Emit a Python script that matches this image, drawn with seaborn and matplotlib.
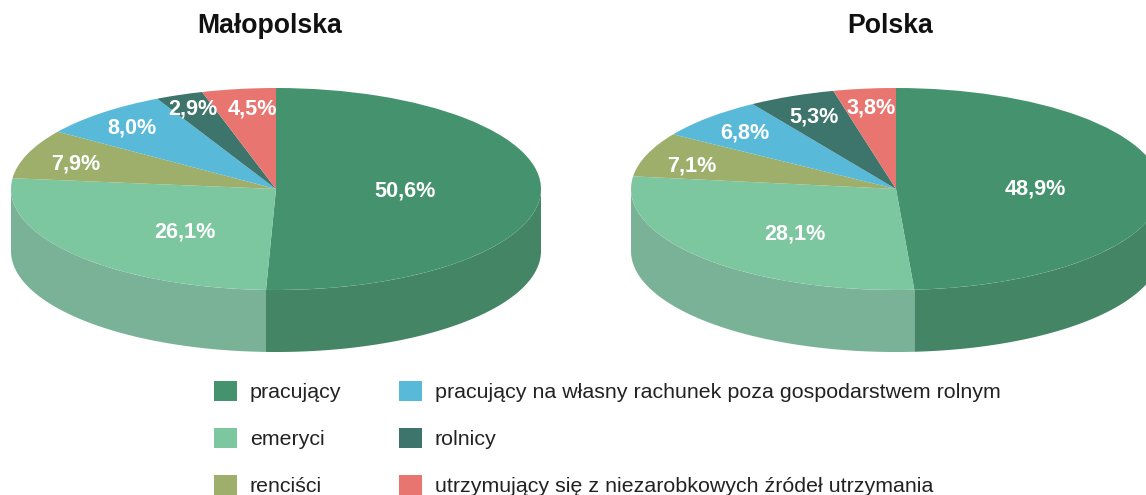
import numpy as np
import matplotlib
matplotlib.use("Agg")
import matplotlib.pyplot as plt
from matplotlib.patches import Polygon, Patch
import seaborn as sns

sns.set_theme(style="white")
plt.rcParams['font.family'] = ['Liberation Sans', 'DejaVu Sans']

categories = ["pracujący", "emeryci", "renciści",
              "pracujący na własny rachunek poza gospodarstwem rolnym",
              "rolnicy", "utrzymujący się z niezarobkowych źródeł utrzymania"]
malopolska = [50.6, 26.1, 7.9, 8.0, 2.9, 4.5]
polska = [48.9, 28.1, 7.1, 6.8, 5.3, 3.8]
labels_m = ["50,6%", "26,1%", "7,9%", "8,0%", "2,9%", "4,5%"]
labels_p = ["48,9%", "28,1%", "7,1%", "6,8%", "5,3%", "3,8%"]
colors = sns.color_palette(["#45936E", "#7CC6A0", "#9DAF6B", "#58B9D8", "#3D746B", "#E8756F"])
side_colors = {0: "#448565", 1: "#7AB297"}

W, H = 1146, 495
RX, RY, DEPTH = 265, 101, 62
fig = plt.figure(figsize=(W / 100, H / 100), dpi=100, facecolor="white")


def pie3d(cx, cy, values, labels, label_px, title, title_x):
    ax = fig.add_axes([(cx - RX) / W, 1 - (cy + RY + DEPTH) / H,
                       2 * RX / W, (2 * RY + DEPTH) / H])
    d = DEPTH / RY
    edges = 90 - 360 * np.cumsum([0] + list(values)) / sum(values)
    # side wall: only the front half (angles 180..360) is visible
    for i, side in side_colors.items():
        a0, a1 = edges[i + 1], edges[i]
        a = np.radians(np.linspace(a0, a1, 200))
        a = a[np.sin(a) <= 0.0]
        if len(a) == 0:
            continue
        x, y = np.cos(a), np.sin(a)
        pts = np.column_stack([np.r_[x, x[::-1]], np.r_[y, y[::-1] - d]])
        ax.add_patch(Polygon(pts, closed=True, fc=side, ec="none", zorder=1))
    wedges, _ = ax.pie(values, colors=colors, startangle=90, counterclock=False,
                       radius=1, wedgeprops=dict(linewidth=0))
    for w in wedges:
        w.set_zorder(2)
    ax.set_aspect("auto")
    ax.set_xlim(-1, 1)
    ax.set_ylim(-1 - d, 1)
    ax.axis("off")
    for lab, (px, py) in zip(labels, label_px):
        ax.text((px - cx) / RX, (cy - py) / RY, lab, color="white", fontsize=15.6,
                fontweight="bold", ha="center", va="center", zorder=3, clip_on=False)
    fig.text(title_x / W, 1 - 26 / H, title, fontsize=19.2, fontweight="bold",
             color="#111111", ha="center", va="center")


pie3d(276, 189, malopolska, labels_m,
      [(405, 191), (185, 232), (76, 164), (132, 128), (193, 109), (252, 109)],
      "Małopolska", 270)
pie3d(896, 189, polska, labels_p,
      [(1035, 189), (795, 234), (692, 166), (745, 133), (814, 117), (871, 108)],
      "Polska", 890)

handles = [Patch(fc=c, ec="none") for c in colors]
leg_ax = fig.add_axes([0, 0, 1, 1])
leg_ax.axis("off")
leg = leg_ax.legend(handles, categories, ncols=2, frameon=False, fontsize=15.4,
                    loc="upper left", bbox_to_anchor=(214 / W, 1 - 381 / H),
                    handlelength=1.08, handleheight=1.08, handletextpad=0.6,
                    labelspacing=1.19, columnspacing=2.68, labelcolor="#222222",
                    borderpad=0, borderaxespad=0)
fig.savefig("out.png", dpi=100)
